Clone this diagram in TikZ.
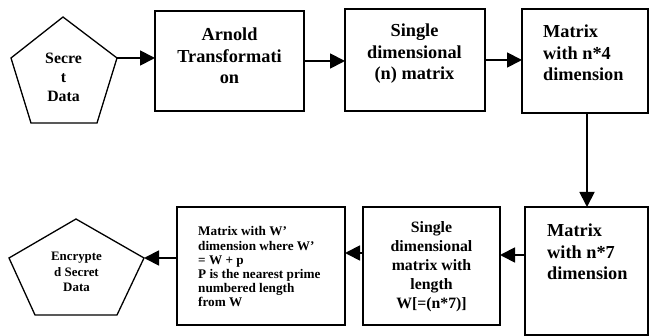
\documentclass[tikz,border=0pt]{standalone}
\usepackage{fontspec}
\setmainfont{Liberation Serif}
\usetikzlibrary{arrows.meta}
\begin{document}
\begin{tikzpicture}[x=1pt,y=-1pt,
  box/.style={draw,line width=1.6pt,inner sep=0pt,outer sep=0pt},
  penta/.style={draw,line width=1.3pt,line join=miter},
  arr/.style={line width=1.8pt,-{Triangle[length=15pt,width=15pt]}},
  txtbig/.style={inner sep=0pt,font=\fontsize{18.3pt}{21.5pt}\selectfont\bfseries},
  txtmid/.style={inner sep=0pt,font=\fontsize{15.8pt}{19pt}\selectfont\bfseries},
  txtsmall/.style={inner sep=0pt,font=\fontsize{13.2pt}{14.2pt}\selectfont\bfseries},
  txttiny/.style={inner sep=0pt,font=\fontsize{12.9pt}{15.5pt}\selectfont\bfseries}]
\useasboundingbox (0,0) rectangle (650,336);

% top row boxes
\node[box,minimum width=149pt,minimum height=100pt] (arn) at (229.5,61) {};
\node[box,minimum width=140pt,minimum height=102pt] (sgl) at (415,60) {};
\node[box,minimum width=126pt,minimum height=104pt] (m4) at (585,61) {};

% bottom row boxes
\node[box,minimum width=123pt,minimum height=128pt] (m7) at (586.5,271) {};
\node[box,minimum width=137pt,minimum height=118pt] (len) at (431.5,266) {};
\node[box,minimum width=168pt,minimum height=118pt] (wp) at (261,266) {};

% pentagon: secret data
\coordinate (sd-t) at (63,17);
\coordinate (sd-r) at (117,58);
\coordinate (sd-br) at (97,123);
\coordinate (sd-bl) at (31,123);
\coordinate (sd-l) at (11,58);
\draw[penta] (sd-t) -- (sd-r) -- (sd-br) -- (sd-bl) -- (sd-l) -- cycle;

% pentagon: encrypted secret data
\coordinate (en-t) at (76,219);
\coordinate (en-r) at (144,258);
\coordinate (en-br) at (117,315);
\coordinate (en-bl) at (35,315);
\coordinate (en-l) at (9,258);
\draw[penta] (en-t) -- (en-r) -- (en-br) -- (en-bl) -- (en-l) -- cycle;

% texts
\node[txtmid,align=center] (sd-txt) at (63.5,77) {Secre\\t\\Data};
\node[txtbig,align=center] (arn-txt) at (229.5,56) {Arnold\\Transformati\\on};
\node[txtbig,align=center] (sgl-txt) at (414.5,54) {Single\\dimensional\\(n) matrix};
\node[txtbig,align=left,anchor=west] (m4-txt) at (543,53) {Matrix\\with n*4\\dimension};
\node[txtbig,align=left,anchor=west] (m7-txt) at (547,252) {Matrix\\with n*7\\dimension};
\node[txtmid,align=center] (len-txt) at (431.5,266.5) {Single\\dimensional\\matrix with\\length\\W[=(n*7)]};
\node[txtsmall,align=left,anchor=west] (wp-txt) at (198,267) {Matrix with W’\\dimension where W’\\= W + p\\P is the nearest prime\\numbered length\\from W};
\node[txttiny,align=center] (en-txt) at (76.5,272) {Encrypte\\d Secret\\Data};

% connectors
\draw[arr] (sd-r) -- (sd-r -| arn.west);
\draw[arr] (arn.east) -- (arn.east -| sgl.west);
\draw[arr] (sgl.east) -- (sgl.east -| m4.west);
\draw[arr] ([xshift=2pt]m4.south) -- ([xshift=2pt]m4.south |- m7.north);
\draw[arr] ([yshift=16pt]m7.west) -- ([yshift=16pt]m7.west -| len.east);
\draw[arr] ([yshift=13pt]len.west) -- ([yshift=13pt]len.west -| wp.east);
\draw[arr] (wp.west |- en-r) -- (en-r);
\end{tikzpicture}
\end{document}
